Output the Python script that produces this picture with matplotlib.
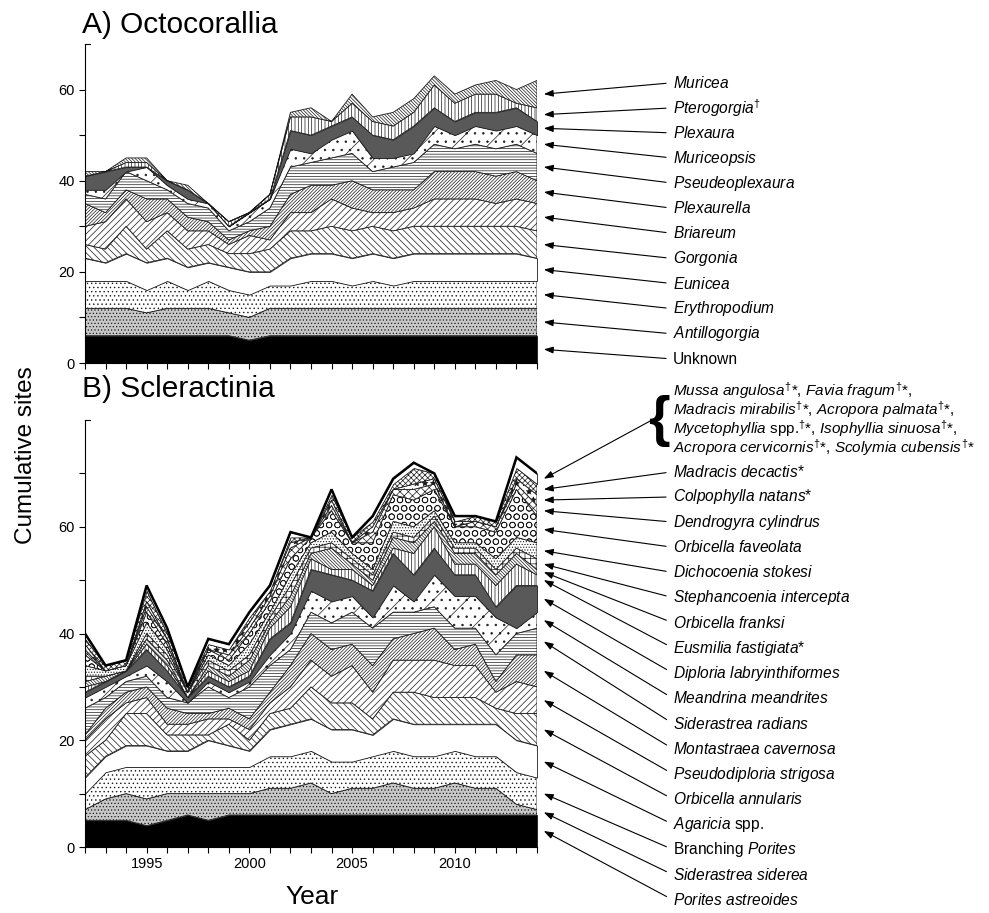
import numpy as np
import matplotlib
matplotlib.use("Agg")
import matplotlib.pyplot as plt
from matplotlib.ticker import FixedLocator

plt.rcParams['font.family'] = ['Liberation Sans', 'DejaVu Sans']
plt.rcParams['mathtext.fontset'] = 'custom'
plt.rcParams['mathtext.rm'] = 'Liberation Sans'
plt.rcParams['mathtext.it'] = 'Liberation Sans:italic'
plt.rcParams['hatch.linewidth'] = 0.5

years = np.arange(1992, 2015)

# ---- A) Octocorallia, stacked bottom -> top ----
unknown        = [6,6,6,6,6,6,6,6,5,6,6,6,6,6,6,6,6,6,6,6,6,6,6]
antillogorgia  = [6,6,6,5,6,6,6,5,5,6,6,6,6,6,6,6,6,6,6,6,6,6,6]
erythropodium  = [6,6,6,5,6,4,6,5,5,5,5,6,6,5,6,5,6,6,6,6,6,6,6]
eunicea        = [5,4,6,6,5,5,4,5,5,3,6,6,6,6,6,6,6,6,6,6,6,6,5]
gorgonia       = [3,3,6,3,6,4,4,3,4,5,6,5,6,6,6,6,6,6,6,6,6,6,6]
briareum       = [4,6,6,6,4,4,3,2,4,2,4,4,6,5,3,4,4,6,6,6,5,6,6]
plexaurella    = [5,2,2,5,3,3,2,1,1,3,4,6,3,6,5,5,4,6,6,6,6,6,5]
pseudoplexaura = [2,3,4,4,2,3,3,2,2,4,6,5,6,6,4,5,6,6,5,6,6,6,6]
muriceopsis    = [1,2,0,3,1,1,1,1,2,2,4,2,4,5,3,2,2,4,3,4,4,4,4]
plexaura       = [3,4,1,0,1,2,0,0,0,0,4,4,3,3,5,4,6,4,3,3,4,4,3]
pterogorgia    = [0,0,1,1,0,0,0,1,0,1,3,4,1,3,3,3,3,5,4,4,4,1,3]
muricea        = [1,0,1,1,0,1,0,0,0,0,1,2,0,2,1,3,3,2,2,2,3,3,6]

octo_series = [unknown, antillogorgia, erythropodium, eunicea, gorgonia, briareum,
               plexaurella, pseudoplexaura, muriceopsis, plexaura, pterogorgia, muricea]
octo_labels = ["Unknown", r"$\mathit{Antillogorgia}$", r"$\mathit{Erythropodium}$",
               r"$\mathit{Eunicea}$", r"$\mathit{Gorgonia}$", r"$\mathit{Briareum}$",
               r"$\mathit{Plexaurella}$", r"$\mathit{Pseudeoplexaura}$",
               r"$\mathit{Muriceopsis}$", r"$\mathit{Plexaura}$",
               r"$\mathit{Pterogorgia}^{\dagger}$", r"$\mathit{Muricea}$"]

# ---- B) Scleractinia, stacked bottom -> top ----
porites_astreoides = [5,5,5,4,5,6,5,6,6,6,6,6,6,6,6,6,6,6,6,6,6,6,6]
siderastrea_sid    = [2,4,5,5,5,4,5,4,4,5,5,6,4,5,5,6,5,5,6,5,5,2,1]
branching_porites  = [3,5,5,6,5,5,5,5,5,6,6,6,6,5,6,6,6,6,6,6,6,6,6]
agaricia           = [3,3,4,4,3,3,5,4,3,5,6,6,6,6,4,6,6,6,5,6,6,6,6]
orb_annularis      = [4,3,6,6,3,3,1,4,2,3,3,6,5,5,3,5,6,5,5,5,3,5,6]
pseudodiploria     = [3,4,2,3,2,2,3,1,2,2,4,5,5,7,5,6,6,7,6,6,3,6,5]
mont_cavernosa     = [1,2,2,2,3,2,1,2,2,2,4,5,5,4,5,4,5,6,3,4,2,5,6]
siderastrea_rad    = [5,2,2,2,2,2,5,2,6,5,3,4,5,6,7,5,4,4,4,3,5,4,5]
meandrina          = [2,2,1,2,3,0,1,1,1,2,3,4,4,3,2,5,2,6,6,6,7,1,3]
diploria           = [1,1,1,3,2,1,1,1,1,3,2,4,5,3,5,6,5,5,4,4,2,8,5]
eusmilia           = [1,0,0,1,1,0,1,1,1,2,3,2,1,2,1,1,4,4,2,2,4,4,2]
orb_franksi        = [1,1,0,1,1,0,1,1,2,1,2,1,4,1,1,2,2,1,2,2,2,2,1]
stephanocoenia     = [1,0,0,1,1,1,1,1,1,1,2,1,1,1,1,1,1,1,1,1,1,1,2]
dichocoenia        = [2,1,1,2,1,0,1,1,2,1,2,1,2,1,1,2,2,1,1,1,2,2,3]
orb_faveolata      = [2,0,0,2,1,0,1,1,2,2,3,1,4,2,5,5,5,4,3,3,5,9,5]
dendrogyra         = [1,0,0,1,1,0,0,1,1,1,2,0,1,0,2,1,2,1,0,1,1,1,2]
colpophylla        = [1,0,0,1,0,0,1,1,1,1,1,0,1,0,1,0,1,1,1,0,0,1,2]
madracis_dec       = [1,1,1,2,1,1,0,0,1,0,1,0,1,1,1,1,3,1,0,1,1,2,2]
rare_group         = [1,0,0,1,1,0,1,1,1,1,1,0,1,0,1,1,1,0,1,0,0,2,2]

scler_series = [porites_astreoides, siderastrea_sid, branching_porites, agaricia,
                orb_annularis, pseudodiploria, mont_cavernosa, siderastrea_rad,
                meandrina, diploria, eusmilia, orb_franksi, stephanocoenia,
                dichocoenia, orb_faveolata, dendrogyra, colpophylla, madracis_dec,
                rare_group]


def it(s):
    return r"$\mathit{" + s.replace(" ", r"\ ") + "}$"


scler_labels = [it("Porites astreoides"), it("Siderastrea siderea"),
                "Branching " + it("Porites"), it("Agaricia") + " spp.",
                it("Orbicella annularis"), it("Pseudodiploria strigosa"),
                it("Montastraea cavernosa"), it("Siderastrea radians"),
                it("Meandrina meandrites"), it("Diploria labryinthiformes"),
                it("Eusmilia fastigiata") + "*", it("Orbicella franksi"),
                it("Stephancoenia intercepta"), it("Dichocoenia stokesi"),
                it("Orbicella faveolata"), it("Dendrogyra cylindrus"),
                it("Colpophylla natans") + "*", it("Madracis decactis") + "*",
                None]

group_lines = [
    r"$\mathit{Mussa\ angulosa}^{\dagger}$*, $\mathit{Favia\ fragum}^{\dagger}$*,",
    r"$\mathit{Madracis\ mirabilis}^{\dagger}$*, $\mathit{Acropora\ palmata}^{\dagger}$*,",
    r"$\mathit{Mycetophyllia}$ spp.$^{\dagger}$*, $\mathit{Isophyllia\ sinuosa}^{\dagger}$*,",
    r"$\mathit{Acropora\ cervicornis}^{\dagger}$*, $\mathit{Scolymia\ cubensis}^{\dagger}$*",
]

# fill styles
DARK = '#595959'
STIP = '#c8c8c8'
BS = '\\' * 5
BS_DENSE = '\\' * 10
DASHY = '/..'
octo_fill = ['black', STIP, 'white', 'white', 'white', 'white', 'white', 'white',
             'white', DARK, 'white', 'white']
octo_hatch = [None, '.....', '....', None, BS, '/////', '//////////', '------',
              DASHY, None, '|||||', BS_DENSE]
scler_fill = ['black', STIP, 'white', 'white', 'white', 'white', 'white', 'white',
              'white', DARK, 'white', 'white', 'white', 'white', 'white', 'white',
              'white', 'white', 'white']
scler_hatch = [None, '.....', '....', None, BS, '/////', '//////////', '------',
               DASHY, None, '|||||', BS_DENSE, '+++', '......', 'OO', 'xxxx',
               '**', 'xxxxxx', None]

FS_LAB = 11.2

W, H = 989, 913
fig = plt.figure(figsize=(W / 100, H / 100), dpi=100)
ax1 = fig.add_axes([85 / W, 1 - 363 / H, (537 - 85) / W, (363 - 44) / H])
ax2 = fig.add_axes([85 / W, 1 - 847 / H, (537 - 85) / W, (847 - 420) / H])


def draw_stack(ax, series, fills, hatches, ytop):
    polys = ax.stackplot(years, *series, colors=fills, edgecolor='#1a1a1a',
                         linewidth=0.6)
    for p, h in zip(polys, hatches):
        if h:
            p.set_hatch(h)
    ax.set_xlim(years[0], years[-1])
    ax.set_ylim(0, ytop)
    for s in ('top', 'right'):
        ax.spines[s].set_visible(False)
    ax.spines['left'].set_linewidth(0.8)
    ax.spines['bottom'].set_linewidth(0.8)
    ax.xaxis.set_major_locator(FixedLocator([1995, 2000, 2005, 2010]))
    ax.xaxis.set_minor_locator(FixedLocator(list(years)))
    ax.yaxis.set_major_locator(FixedLocator([0, 20, 40, 60]))
    ax.yaxis.set_minor_locator(FixedLocator(list(range(10, ytop, 20))))
    ax.tick_params(which='both', direction='out', length=4, width=0.8,
                   labelsize=10.5)
    ax.plot([0, 0.012], [1, 1], transform=ax.transAxes, color='black',
            lw=0.8, clip_on=False)


def label_arrows(ax, series, labels, ys_px):
    last = np.array([s[-1] for s in series], dtype=float)
    tops = np.cumsum(last)
    mids = tops - last / 2
    for lab, mid, ypx in zip(labels, mids, ys_px):
        if lab is None:
            continue
        ax.annotate(lab, xy=(1.015, mid), xycoords=('axes fraction', 'data'),
                    xytext=(673 / W, 1 - ypx / H), textcoords='figure fraction',
                    ha='left', va='center', fontsize=FS_LAB,
                    annotation_clip=False,
                    arrowprops=dict(arrowstyle='-|>,head_length=0.5,head_width=0.18',
                                    color='black', lw=0.8, shrinkA=3, shrinkB=0,
                                    relpos=(0, 0.5)))


draw_stack(ax1, octo_series, octo_fill, octo_hatch, 70)
draw_stack(ax2, scler_series, scler_fill, scler_hatch, 80)
ax1.tick_params(axis='x', which='both', labelbottom=False)

# heavy outline on the scleractinian total, as in the original figure
ax2.plot(years, np.sum(scler_series, axis=0), color='black', lw=1.8,
         solid_joinstyle='miter')

octo_y = np.linspace(359, 82.7, len(octo_series))
label_arrows(ax1, octo_series, octo_labels, octo_y)

scler_y = list(np.linspace(900, 471.7, len(scler_series) - 1)) + [0]
label_arrows(ax2, scler_series, scler_labels, scler_y)

# bracketed group of rare species
for k, line in enumerate(group_lines):
    fig.text(673 / W, 1 - (391 + 19 * k) / H, line, ha='left', va='center',
             fontsize=FS_LAB - 0.2)
fig.text(659 / W, 1 - 421 / H, '{', ha='center', va='center', fontsize=40,
         fontweight='bold')
last = np.array([s[-1] for s in scler_series], dtype=float)
ax2.annotate('', xy=(1.015, last.sum() - last[-1] / 2),
             xycoords=('axes fraction', 'data'),
             xytext=(652 / W, 1 - 420 / H), textcoords='figure fraction',
             annotation_clip=False,
             arrowprops=dict(arrowstyle='-|>,head_length=0.5,head_width=0.18',
                             color='black', lw=0.8, shrinkA=0, shrinkB=0,
                             mutation_scale=FS_LAB))

fig.text(82 / W, 1 - 33 / H, 'A) Octocorallia', fontsize=21.5, va='baseline')
fig.text(82 / W, 1 - 397 / H, 'B) Scleractinia', fontsize=21.5, va='baseline')
fig.text(26 / W, 1 - 455 / H, 'Cumulative sites', rotation=90, fontsize=17.5,
         ha='center', va='center')
fig.text(312 / W, 1 - 897 / H, 'Year', fontsize=19, ha='center', va='center')

fig.savefig('out.png', dpi=100)
